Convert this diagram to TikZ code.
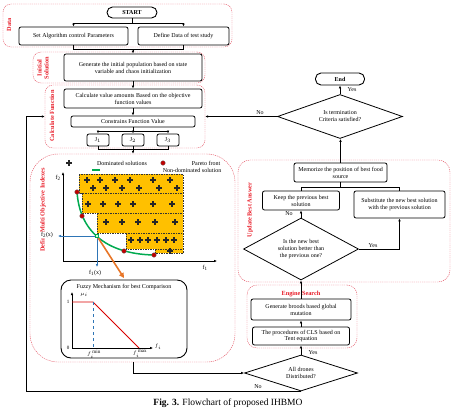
\documentclass[tikz,border=0pt]{standalone}
\usepackage{fontspec}
\setmainfont{Liberation Serif}
\usetikzlibrary{shapes.geometric,arrows.meta,calc}

\definecolor{regred}{RGB}{228,90,105}
\definecolor{labred}{RGB}{232,28,40}
\definecolor{gold}{RGB}{255,192,0}
\definecolor{pgreen}{RGB}{0,170,80}
\definecolor{pblue}{RGB}{46,117,182}
\definecolor{porange}{RGB}{232,118,40}
\definecolor{dotred}{RGB}{192,0,0}

\newcommand{\fs}{\fontsize{6}{6.9}\selectfont}

\begin{document}
\begin{tikzpicture}[x=1pt,y=-1pt,
 box/.style={draw, line width=0.8pt, rounded corners=2pt, align=center, font=\fs, inner sep=1pt},
 pill/.style={draw, line width=0.9pt, rounded corners=5.5pt, font=\fs\bfseries, inner sep=0pt},
 dia/.style={draw, diamond, aspect=2.5, line width=0.8pt, align=center, font=\fs, inner sep=0pt},
 region/.style={draw=regred, line width=0.45pt, dash pattern=on 1.2pt off 0.9pt},
 lab/.style={text=labred, font=\fontsize{6.3}{7}\selectfont\bfseries, align=center, inner sep=0.5pt},
 arr/.style={-{Latex[length=3pt,width=2.6pt]}, line width=0.7pt},
 ln/.style={line width=0.7pt},
 yn/.style={font=\fs, inner sep=0.5pt},
 plusm/.style={line width=1.3pt, black!85},
 rdot/.style={circle, fill=dotred, draw=black!60, line width=0.3pt, minimum size=4.6pt, inner sep=0pt},
 dom/.style={fill=gold, draw=black!80, line width=0.5pt, dash pattern=on 1.5pt off 1pt},
 txt/.style={font=\fs, inner sep=0.5pt},
 tiny/.style={font=\fontsize{5}{5}\selectfont, inner sep=0.3pt},
]
\useasboundingbox (0,0) rectangle (457,415);

% ---------- regions ----------
\node[region, rounded corners=8pt, minimum width=229pt, minimum height=43pt] (rdata) at (117.5,25.5) {};
\node[region, rounded corners=8pt, minimum width=172pt, minimum height=31pt] (rinit) at (119,67.5) {};
\node[region, rounded corners=8pt, minimum width=160pt, minimum height=63pt] (rcalc) at (125,116.5) {};
\node[region, rounded corners=28pt, minimum width=205pt, minimum height=208pt] (rdef) at (132.5,258) {};
\node[region, rounded corners=12pt, minimum width=212pt, minimum height=122pt] (rupd) at (344,221) {};
\node[region, rounded corners=10pt, minimum width=110pt, minimum height=63pt] (reng) at (302,316.5) {};

\node[lab, rotate=90] (ldata) at (9,25) {Data};
\node[lab, rotate=90] (linit) at (43,68) {Initial\\Solution};
\node[lab, rotate=90] (lcalc) at (52,116) {Calculate Function};
\node[lab, rotate=90] (ldef) at (43,210) {Define Multi Objective Indexes};
\node[lab, rotate=90] (lupd) at (250,210) {Update Best Answer};
\node[lab] (leng) at (301,294) {Engine Search};

% ---------- left column ----------
\node[pill, minimum width=50pt, minimum height=11pt] (start) at (132,12.5) {START};
\node[box, minimum width=109pt, minimum height=18pt] (setp) at (73.5,36) {Set Algorithm control Parameters};
\node[box, minimum width=91pt, minimum height=18pt] (defd) at (183.5,36) {Define Data of test study};
\node[box, minimum width=138pt, minimum height=27pt] (gen) at (133,67.5) {Generate the initial population based on state\\variable and chaos initialization};
\node[box, minimum width=138pt, minimum height=19pt] (calc) at (133,98.5) {Calculate value amounts Based on the objective\\function values};
\node[box, minimum width=124pt, minimum height=11pt] (cons) at (133,121.5) {Constrains Function Value};
\node[box, minimum width=22pt, minimum height=12pt] (j1) at (98,140) {J$_1$};
\node[box, minimum width=22pt, minimum height=12pt] (j2) at (133,140) {J$_2$};
\node[box, minimum width=22pt, minimum height=12pt] (j3) at (168,140) {J$_3$};

\coordinate (s1) at (132,23); \coordinate (s1l) at (73.5,23); \coordinate (s1r) at (183.5,23);
\draw[ln] (start.south) -- (s1);
\draw[ln] (s1l) -- (s1r);
\draw[arr] (s1l) -- (setp.north);
\draw[arr] (s1r) -- (defd.north);
\coordinate (m1l) at (73.5,49); \coordinate (m1r) at (183.5,49); \coordinate (m1) at (133,49);
\draw[ln] (setp.south) -- (m1l) -- (m1r) -- (defd.south);
\draw[arr] (m1) -- (gen.north);
\draw[arr] (gen.south) -- (calc.north);
\draw[arr] (calc.south) -- (cons.north);
\coordinate (c1) at (133,131); \coordinate (c1l) at (98,131); \coordinate (c1r) at (168,131);
\draw[ln] (cons.south) -- (c1);
\draw[ln] (c1l) -- (c1r);
\draw[arr] (c1l) -- (j1.north);
\draw[arr] (c1) -- (j2.north);
\draw[arr] (c1r) -- (j3.north);
\coordinate (c2l) at (98,149); \coordinate (c2r) at (168,149); \coordinate (c2) at (133,149);
\draw[ln] (j1.south) -- (c2l) -- (c2r) -- (j3.south);
\draw[ln] (j2.south) -- (c2);
\draw[arr] (c2) -- (c2 |- rdef.north);

% ---------- Pareto chart ----------
\coordinate (ax0) at (63,261);
\coordinate (axy) at (63,172);
\coordinate (axx) at (217,261);
\draw[dom] (79,174) rectangle (183,193);
\draw[dom] (82,193) rectangle (183,213);
\draw[dom] (97,213) rectangle (183,233);
\draw[dom] (126,233) rectangle (183,249);
\draw[dom] (155,249) rectangle (183,253);
\foreach \x/\y in {87/180,100/180,115/180,130/180,153/180,170/180,
                   93/188,106/188,122/188,139/188,159/188,177/188,
                   88/204,103/204,118/204,133/204,153/204,172/204,
                   106/222,122/222,138/222,155/222,175/222,
                   131/240,140/240,148/240,157/240,166/240,174/240,
                   170/251,69/163}
  \draw[plusm] (\x-2.7,\y) -- (\x+2.7,\y) (\x,\y-2.7) -- (\x,\y+2.7);
\draw[arr, line width=0.9pt] (ax0) -- (axy);
\draw[arr, line width=0.9pt] (ax0) -- (axx);
\node[txt] (f2lab) at (58,178) {f\textsubscript{2}};
\node[txt] (f1lab) at (205,268) {f\textsubscript{1}};
\draw[pgreen, line width=1.5pt] (77,191) .. controls (79,230) and (105,254) .. (154,255);
\coordinate (pt) at (97,236);
\draw[pblue, arr, line width=0.8pt] (pt) -- (58,236);
\draw[pblue, arr, line width=0.8pt] (pt) -- (97,267);
\draw[porange, line width=1.6pt, -{Triangle[length=5pt,width=5pt]}] (pt) -- (124,278);
\node[rdot] (d1) at (77,192) {};
\node[rdot] (d2) at (82,216) {};
\node[rdot] (d3) at (124,251) {};
\node[rdot] (d4) at (154,255) {};
\node[draw=pgreen, fill=green!20, line width=0.6pt, minimum size=3.5pt, inner sep=0pt] (sq) at (pt) {};
\node[txt, fill=white, inner sep=0.3pt] (f2x) at (47,235) {f\textsubscript{2}(x)};
\node[txt] (f1x) at (95,273) {f\textsubscript{1}(x)};
% legend
\node[txt] (lg1) at (122,163) {Dominated solutions};
\node[rdot] (lgd) at (163,163) {};
\node[txt] (lg2) at (206,163) {Pareto front};
\draw[pgreen, line width=1.5pt] (92,170) -- (100,170);
\node[txt] (lg3) at (192,170) {Non-dominated solution};

% ---------- Fuzzy box ----------
\node[draw, line width=0.9pt, rounded corners=10pt, minimum width=126pt, minimum height=78pt] (fuzzy) at (124,319) {};
\node[txt] (fztitle) at (124,287) {Fuzzy Mechanism for best Comparison};
\draw[arr, line width=0.9pt] (72,348) -- (72,292);
\draw[arr, line width=0.9pt] (72,348) -- (153,348);
\draw[red!85!black, line width=0.9pt] (72,302) -- (93,302) -- (139,348);
\draw[pblue, dashed, line width=0.8pt] (93,302) -- (93,348);
\node[tiny] (one) at (68,302) {1};
\node[tiny] (zero) at (68,348) {0};
\node[tiny] (mu) at (84,295) {$\mu_i$};
\node[tiny, anchor=north] (fmin) at (94,350) {$f_i^{\,\min}$};
\node[tiny, anchor=north] (fmax) at (140,350) {$f_i^{\,\max}$};
\node[tiny] (fi) at (158,347) {$f_i$};

% ---------- right column ----------
\node[dia, minimum width=113pt, minimum height=36pt] (drones) at (301,373) {All drones\\Distributed?};
\node[box, minimum width=97pt, minimum height=18pt] (cls) at (301,336) {The procedures of CLS based on\\Tent equation};
\node[box, minimum width=100pt, minimum height=21pt] (brood) at (301,309.5) {Generate broods based global\\mutation};
\node[dia, minimum width=115pt, minimum height=62pt] (better) at (301,249) {Is the new best\\solution better than\\the previous one?};
\node[box, minimum width=77pt, minimum height=19pt] (keep) at (301,200.5) {Keep the previous best\\solution};
\node[box, minimum width=91pt, minimum height=27pt] (subs) at (399.5,204.5) {Substitute the new best solution\\with the previous solution};
\node[box, minimum width=93pt, minimum height=19pt] (memo) at (340.5,172.5) {Memorize the position of best food\\source};
\node[dia, minimum width=125pt, minimum height=44pt] (term) at (340,116.5) {Is termination\\Criteria satisfied?};
\node[pill, minimum width=49pt, minimum height=12pt] (endn) at (340,79) {End};

\draw[arr] (drones.north) -- (cls.south);
\node[yn] (y1) at (313,353) {Yes};
\draw[arr] (cls.north) -- (brood.south);
\draw[arr] (brood.north) -- (better.south);
\draw[arr] (better.north) -- (keep.south);
\node[yn] (n1) at (289,214) {No};
\draw[arr] (better.east) -- (better.east -| subs.south) -- (subs.south);
\node[yn] (y2) at (373,245.5) {Yes};
\coordinate (u1) at (340.5,187);
\draw[ln] (keep.north) -- (keep.north |- u1) -- (subs.north |- u1) -- (subs.north);
\draw[ln] (u1) -- (memo.south);
\draw[arr] (memo.north) -- (memo.north |- term.south);
\draw[arr] (term.north) -- (endn.south);
\node[yn] (y3) at (352,90) {Yes};
\draw[arr] (term.west) -- (rcalc.east);
\node[yn] (n2) at (260,112.5) {No};

% bottom connections
\draw[arr] (rdef.south -| c2) -- (c2 |- drones.west) -- (drones.west);
\coordinate (lp1) at (26,391);
\coordinate (lp2) at (26,116.5);
\draw[arr] (drones.south) -- (drones.south -| lp1) -- (lp2) -- (rcalc.west);
\node[yn] (n3) at (258,387) {No};

% caption
\node[font=\fontsize{9.5}{11}\selectfont, inner sep=0pt] (cap) at (228,403) {\textbf{Fig. 3.} Flowchart of proposed IHBMO};
\end{tikzpicture}
\end{document}
